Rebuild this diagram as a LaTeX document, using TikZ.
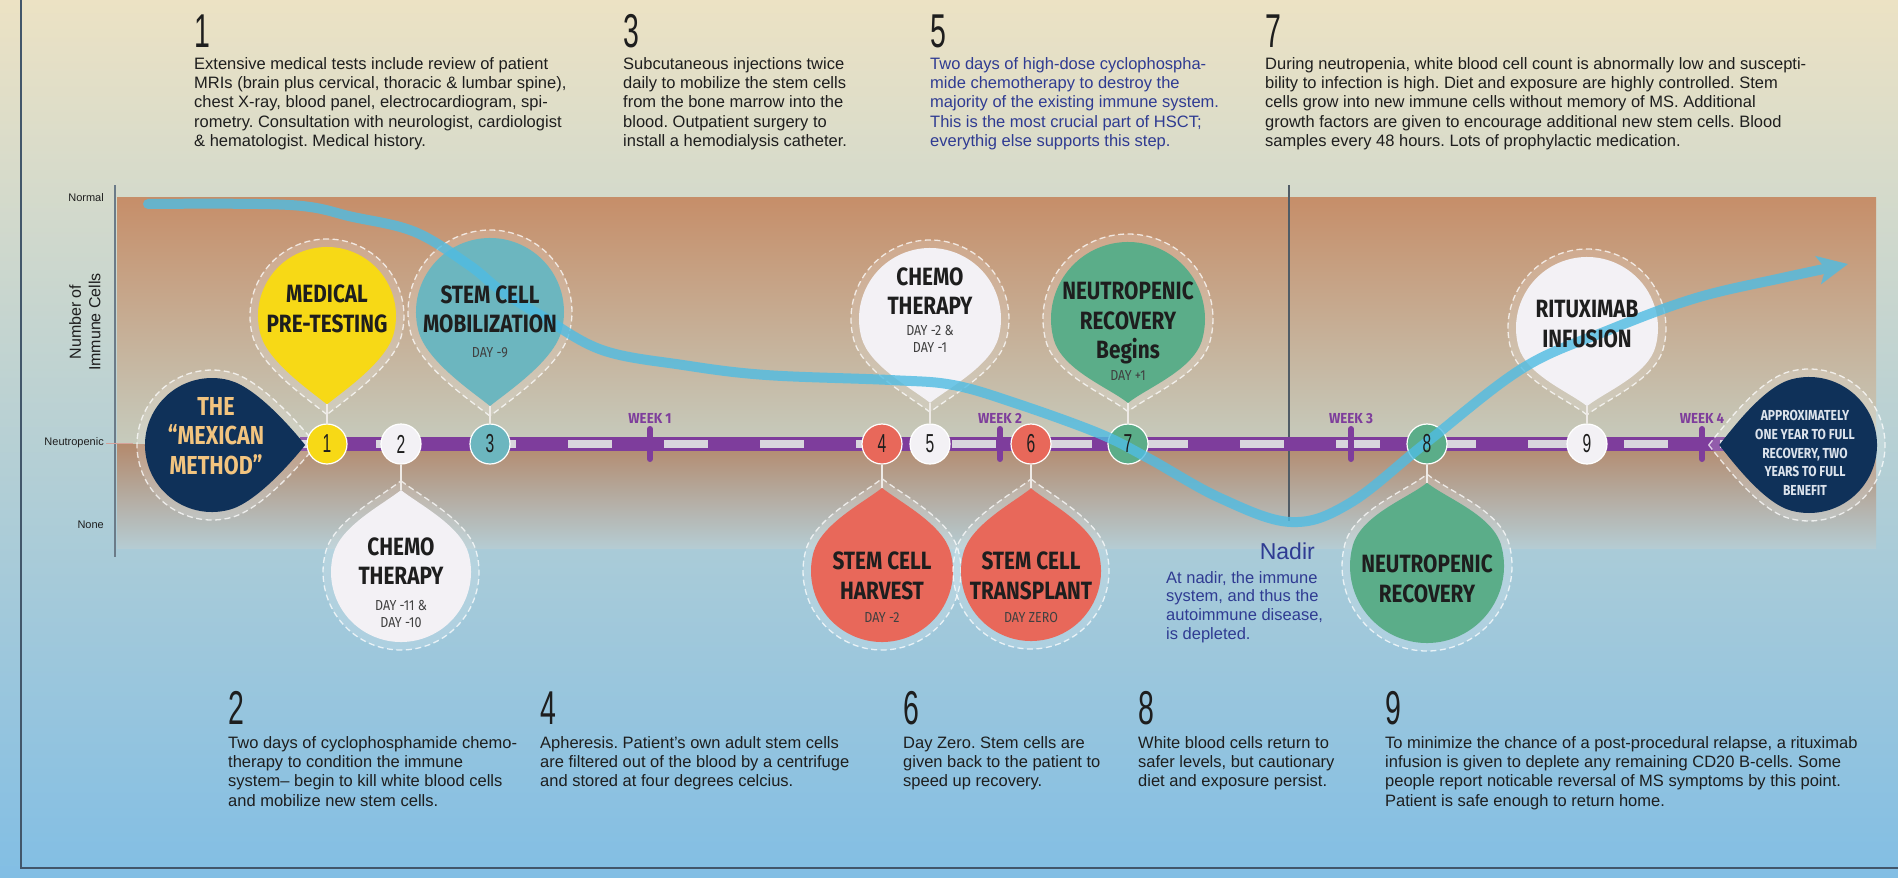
\documentclass[tikz,border=0pt]{standalone}
\usepackage{fontspec}
\setmainfont{Liberation Sans}
\newfontfamily\numfont{Liberation Sans}[FakeStretch=0.6]
\newfontfamily\dropfont{Fira Sans}[FakeStretch=0.83]
\newfontfamily\dayfont{Fira Sans}[FakeStretch=0.86]
\newfontfamily\weekfont{Fira Sans}[FakeStretch=0.92]
\usetikzlibrary{arrows.meta}
\frenchspacing

\definecolor{bgtop}{HTML}{ECE2C4}
\definecolor{bgmid}{HTML}{C6D1CD}
\definecolor{bgbot}{HTML}{82BEE4}
\definecolor{bandtop}{HTML}{C68E69}
\definecolor{bandmid}{HTML}{C9B399}
\definecolor{bandlow}{HTML}{C6CBBD}
\definecolor{bandtwo}{HTML}{B48A6D}
\definecolor{bandend}{HTML}{B5CCD3}
\definecolor{purp}{HTML}{7E3D9C}
\definecolor{lightdash}{HTML}{D8D5DD}
\definecolor{cyel}{HTML}{F7D916}
\definecolor{cteal}{HTML}{6CB6BF}
\definecolor{cwht}{HTML}{F3F1F5}
\definecolor{cred}{HTML}{E8685A}
\definecolor{cgrn}{HTML}{5BAD89}
\definecolor{cnavy}{HTML}{0F3159}
\definecolor{cgold}{HTML}{F2C47F}
\definecolor{cpale}{HTML}{DCE3EC}
\definecolor{ccurve}{HTML}{4FBCE3}
\definecolor{tblue}{HTML}{2F3B92}
\definecolor{tdark}{HTML}{1E1E1E}
\definecolor{cframe}{HTML}{42566A}
\definecolor{caxis}{HTML}{6B7B88}
\definecolor{cconn}{HTML}{EEEAE6}

\newcommand\dropshape[1]{(#1,0) .. controls ({#1-0.2},0.25) and (0.66,0.86) .. (75:1) arc[start angle=75,end angle=285,radius=1] .. controls (0.66,-0.86) and ({#1-0.2},-0.25) .. (#1,0) -- cycle}

\newcommand\tdrop[7]{%
  \pgfmathsetmacro\hsc{#4+8}%
  \begin{scope}[shift={(#2,#3)},rotate=#6,scale=\hsc]
    \fill[white,opacity=.16] \dropshape{#5};
    \draw[halo] \dropshape{#5};
  \end{scope}
  \begin{scope}[shift={(#2,#3)},rotate=#6,scale=#4]
    \fill[#7] \dropshape{#5};
    \coordinate (#1) at (#5,0);
  \end{scope}}

\tikzset{
  halo/.style={draw=white,draw opacity=.75,line width=1.3pt,dash pattern=on 6pt off 3.5pt},
  bodytext/.style={anchor=north west,align=left,inner sep=0pt,text=tdark,font=\fontsize{16.5}{19.3}\selectfont},
  bignum/.style={anchor=base west,inner sep=0pt,text=tdark,font=\numfont\fontsize{47.5}{47.5}\selectfont},
  dtitle/.style={anchor=north,align=center,inner sep=0pt,text=tdark,font=\dropfont\bfseries\fontsize{25}{29.5}\selectfont},
  daytxt/.style={align=center,inner sep=0pt,text=tdark!85,font=\dayfont\fontsize{14.5}{17}\selectfont},
  ncirc/.style={circle,minimum size=40pt,inner sep=0pt,draw=white,line width=1.2pt},
  ndigit/.style={inner sep=0pt,text=tdark,font=\numfont\fontsize{26}{26}\selectfont},
  conn/.style={draw=cconn,line width=2.5pt},
  weeklab/.style={anchor=base,inner sep=0pt,text=purp,font=\weekfont\bfseries\fontsize{14.5}{14.5}\selectfont},
  weektick/.style={draw=purp,line width=6pt,line cap=round},
  axlab/.style={anchor=east,inner sep=0pt,text=tdark,font=\fontsize{11}{11}\selectfont},
}

\begin{document}
\begin{tikzpicture}[x=1pt,y=-1pt]
\useasboundingbox (0,0) rectangle (1898,878);
% background
\shade[top color=bgtop,middle color=bgmid,bottom color=bgbot] (0,0) rectangle (1898,878);
\shade[top color=bandtop,middle color=bandmid,bottom color=bandlow] (117,197) rectangle (1876,444);
\shade[top color=bandtwo,bottom color=bandend] (117,444) rectangle (1876,548);
% frame
\draw[cframe,line width=2.5pt] (21,-5) -- (21,868) -- (1905,868);
% axis
\draw[caxis,line width=2pt] (115,185) -- (115,557);
\draw[draw=cred!45!bgmid,line width=1pt] (106,443) -- (133,443);
\node[axlab] (lnorm) at (104,198) {Normal};
\node[axlab] (lneut) at (104,443) {Neutropenic};
\node[axlab] (lnone) at (104,525) {None};
\node[rotate=90,align=center,inner sep=0pt,text=tdark,font=\fontsize{16}{19.5}\selectfont] (ylab) at (85,322) {Number of\\Immune Cells};
% nadir line
\draw[caxis!75!black,line width=1.6pt] (1289,185) -- (1289,521);
% timeline
\fill[purp] (300,437) rectangle (1742,451);
\draw[lightdash,line width=8pt,dash pattern=on 44pt off 52pt,dash phase=20pt] (300,444) -- (1742,444);
\foreach \wx/\wn in {650/1,1000/2,1351/3,1702/4}{
  \draw[weektick] (\wx,429) -- (\wx,459);
  \node[weeklab] (wk\wn) at (\wx,423) {WEEK \wn};
}
% drops
\tdrop{tm}{212}{445}{67}{1.39}{0}{cnavy}
\tdrop{ta}{1809}{445}{68}{1.32}{180}{cnavy}
\tdrop{t1}{327}{316}{69}{1.28}{-90}{cyel}
\tdrop{t3}{490}{312}{74}{1.27}{-90}{cteal}
\tdrop{t5}{930}{319}{71}{1.18}{-90}{cwht}
\tdrop{t7}{1128}{319}{77}{1.09}{-90}{cgrn}
\tdrop{t9}{1587}{328}{71}{1.1}{-90}{cwht}
\tdrop{t2}{401}{572}{70}{1.17}{90}{cwht}
\tdrop{t4}{882}{571}{71}{1.17}{90}{cred}
\tdrop{t6}{1031}{571}{70}{1.18}{90}{cred}
\tdrop{t8}{1427}{566}{77}{1.08}{90}{cgrn}
% step circles
\node[ncirc,fill=cyel] (n1) at (327,444) {};
\node[ncirc,fill=cwht] (n2) at (401,444) {};
\node[ncirc,fill=cteal] (n3) at (490,444) {};
\node[ncirc,fill=cred] (n4) at (882,444) {};
\node[ncirc,fill=cwht] (n5) at (930,444) {};
\node[ncirc,fill=cred] (n6) at (1031,444) {};
\node[ncirc,fill=cgrn] (n7) at (1128,444) {};
\node[ncirc,fill=cgrn] (n8) at (1427,444) {};
\node[ncirc,fill=cwht] (n9) at (1587,444) {};
\foreach \k in {1,...,9}{ \draw[conn] (t\k) -- (n\k); }
% immune curve
\begin{scope}[transparency group,opacity=.8]
\draw[ccurve,line width=10pt,line cap=round,-{Stealth[length=30pt,width=28pt,inset=7pt]}]
  plot[smooth,tension=.6] coordinates {(148,204) (290,205) (353,217) (415,232) (469,265) (500,290) (540,315) (602,350) (683,365) (766,375) (890,380) (953,385) (1015,403) (1098,433) (1148,458) (1220,498) (1291,522) (1350,503) (1427,442) (1523,368) (1609,330) (1696,298) (1782,278) (1848,264)};
\end{scope}
% circle digits
\foreach \k in {1,...,9}{ \node[ndigit] (d\k) at (n\k) {\k}; }
% drop texts
\node[dtitle,text=cgold,font=\dropfont\bfseries\fontsize{26}{29.5}\selectfont] (labm) at (216,397) {THE\\“MEXICAN\\METHOD”};
\node[dtitle,text=cpale,font=\dropfont\bfseries\fontsize{14.5}{18.8}\selectfont] (laba) at (1805,410) {APPROXIMATELY\\ONE YEAR TO FULL\\RECOVERY, TWO\\YEARS TO FULL\\BENEFIT};
\node[dtitle] (lab1) at (327,285) {MEDICAL\\PRE-TESTING};
\node[dtitle] (lab3) at (490,285.5) {STEM CELL\\MOBILIZATION};
\node[daytxt,anchor=base] (day3) at (490,357) {DAY -9};
\node[dtitle] (lab5) at (930,267.5) {CHEMO\\THERAPY};
\node[daytxt,anchor=north] (day5) at (930,325.5) {DAY -2 \&\\DAY -1};
\node[dtitle] (lab7) at (1128,282) {NEUTROPENIC\\RECOVERY\\Begins};
\node[daytxt,anchor=base] (day7) at (1128,380) {DAY +1};
\node[dtitle] (lab9) at (1587,300) {RITUXIMAB\\INFUSION};
\node[dtitle] (lab2) at (401,537.5) {CHEMO\\THERAPY};
\node[daytxt,anchor=north] (day2) at (401,600) {DAY -11 \&\\DAY -10};
\node[dtitle] (lab4) at (882,552) {STEM CELL\\HARVEST};
\node[daytxt,anchor=base] (day4) at (882,622) {DAY -2};
\node[dtitle] (lab6) at (1031,552) {STEM CELL\\TRANSPLANT};
\node[daytxt,anchor=base] (day6) at (1031,622) {DAY ZERO};
\node[dtitle] (lab8) at (1427,555) {NEUTROPENIC\\RECOVERY};
% nadir texts
\node[anchor=base east,inner sep=0pt,text=tblue,font=\fontsize{23}{23}\selectfont] (nadirlab) at (1315,559) {Nadir};
\node[bodytext,text=tblue,font=\fontsize{16.5}{18.7}\selectfont] (nadirtxt) at (1166,571) {At nadir, the immune\\system, and thus the\\autoimmune disease,\\is depleted.};
% top texts
\node[bignum] (num1) at (194,47) {1};
\node[bodytext] (txt1) at (194,57) {Extensive medical tests include review of patient\\MRIs (brain plus cervical, thoracic \& lumbar spine),\\chest X-ray, blood panel, electrocardiogram, spi-\\rometry. Consultation with neurologist, cardiologist\\\& hematologist. Medical history.};
\node[bignum] (num3) at (623,47) {3};
\node[bodytext] (txt3) at (623,57) {Subcutaneous injections twice\\daily to mobilize the stem cells\\from the bone marrow into the\\blood. Outpatient surgery to\\install a hemodialysis catheter.};
\node[bignum] (num5) at (930,47) {5};
\node[bodytext,text=tblue] (txt5) at (930,57) {Two days of high-dose cyclophospha-\\mide chemotherapy to destroy the\\majority of the existing immune system.\\This is the most crucial part of HSCT;\\everythig else supports this step.};
\node[bignum] (num7) at (1265,47) {7};
\node[bodytext] (txt7) at (1265,57) {During neutropenia, white blood cell count is abnormally low and suscepti-\\bility to infection is high. Diet and exposure are highly controlled. Stem\\cells grow into new immune cells without memory of MS. Additional\\growth factors are given to encourage additional new stem cells. Blood\\samples every 48 hours. Lots of prophylactic medication.};
% bottom texts
\node[bignum] (num2) at (228,724) {2};
\node[bodytext] (txt2) at (228,736) {Two days of cyclophosphamide chemo-\\therapy to condition the immune\\system– begin to kill white blood cells\\and mobilize new stem cells.};
\node[bignum] (num4) at (540,724) {4};
\node[bodytext] (txt4) at (540,736) {Apheresis. Patient’s own adult stem cells\\are filtered out of the blood by a centrifuge\\and stored at four degrees celcius.};
\node[bignum] (num6) at (903,724) {6};
\node[bodytext] (txt6) at (903,736) {Day Zero. Stem cells are\\given back to the patient to\\speed up recovery.};
\node[bignum] (num8) at (1138,724) {8};
\node[bodytext] (txt8) at (1138,736) {White blood cells return to\\safer levels, but cautionary\\diet and exposure persist.};
\node[bignum] (num9) at (1385,724) {9};
\node[bodytext] (txt9) at (1385,736) {To minimize the chance of a post-procedural relapse, a rituximab\\infusion is given to deplete any remaining CD20 B-cells. Some\\people report noticable reversal of MS symptoms by this point.\\Patient is safe enough to return home.};
\end{tikzpicture}
\end{document}
